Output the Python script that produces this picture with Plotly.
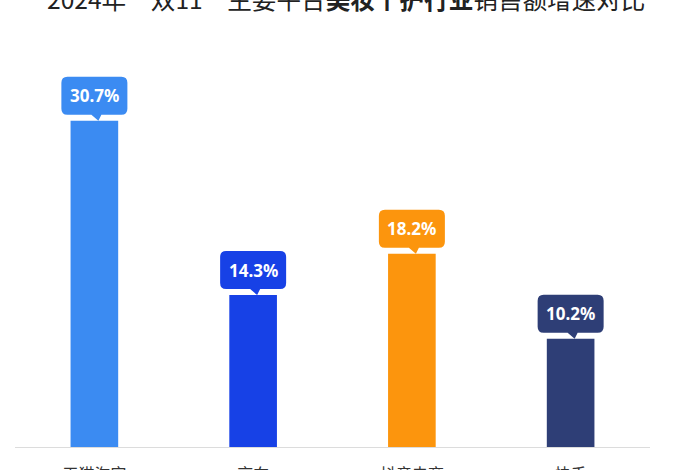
import plotly.graph_objects as go

platforms = ["天猫淘宝", "京东", "抖音电商", "快手"]
growth = [30.7, 14.3, 18.2, 10.2]
colors = ["#3B8BF2", "#1741E6", "#FC950D", "#2E3E76"]
labels = [f"{v}%" for v in growth]
title_text = "2024年“双11”主要平台<b>美妆个护行业</b>销售额增速对比"

fig = go.Figure()
fig.add_trace(go.Bar(
    x=platforms, y=growth, marker=dict(color=colors, line=dict(width=0)),
    width=0.30, hoverinfo="skip"
))

# callout box path (pixel offsets relative to the bar top, y upward)
box = ("M -27,6 L -3,6 L 4,0 L 7,6 L 27,6 Q 33,6 33,12 L 33,38 Q 33,44 27,44 "
       "L -27,44 Q -33,44 -33,38 L -33,12 Q -33,6 -27,6 Z")

for p, v, c, t in zip(platforms, growth, colors, labels):
    fig.add_shape(type="path", xref="x", yref="y",
                  xsizemode="pixel", ysizemode="pixel",
                  xanchor=p, yanchor=v, path=box,
                  fillcolor=c, line=dict(width=0), layer="above")
    fig.add_annotation(x=p, y=v, text=f"<b>{t}</b>", showarrow=False,
                       yshift=25, yanchor="middle",
                       font=dict(family="Noto Sans, Noto Sans CJK SC", size=17, color="white"))

fig.add_annotation(xref="paper", yref="paper", x=0.5213, y=1, xanchor="center",
                   yanchor="middle", yshift=24, showarrow=False, text=title_text,
                   font=dict(family="Noto Sans CJK SC", size=24.6, color="#222222"))

fig.update_layout(
    width=700, height=470,
    margin=dict(l=15, r=50, t=22, b=23, autoexpand=False),
    paper_bgcolor="white", plot_bgcolor="white",
    showlegend=False,
    xaxis=dict(showline=True, linecolor="#DCDCDC", linewidth=1, automargin=False,
               ticks="", showgrid=False, ticklabelstandoff=13,
               tickfont=dict(family="Noto Sans CJK SC", size=16, color="#333333")),
    yaxis=dict(range=[0, 40], visible=False, showgrid=False, zeroline=False),
)

fig.write_html("out.html", config={"displayModeBar": False},
               post_script="document.body.style.margin='0px';document.body.style.overflow='hidden';")
